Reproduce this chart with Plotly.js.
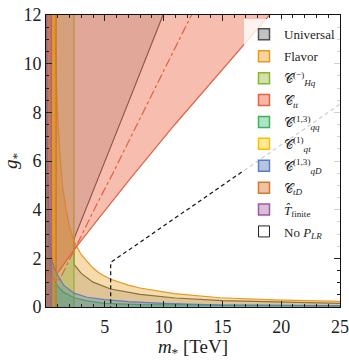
<!DOCTYPE html>
<html><head><meta charset="utf-8">
<script src="https://cdn.plot.ly/plotly-3.0.1.min.js"></script>
<style>html,body{margin:0;padding:0;background:#fff}</style>
</head><body><div id="chart" style="width:349px;height:360px"></div>
<script>
// ---- data (m* in TeV, g*) ----
const uniM = [10.8, 9.95, 7, 4.4, 2.38, 2.38, 3, 4, 5.5, 8, 11, 15, 20, 25, 26, 26, -1, -1];
const uniG = [13, 12, 8.4, 5.23, 2.8, 1.75, 1.38, 1.02, 0.74, 0.52, 0.37, 0.26, 0.19, 0.15, 0.14, -1, -1, 13];
const flavM = [0.67, 0.72, 0.8, 0.9, 1.0, 1.15, 1.4, 1.7, 2.0, 2.38, 3, 4, 4.55, 5.5, 7, 8, 10.9, 14.8, 19.4, 25, 26, 26, -1, -1];
const flavG = [13, 12, 10.5, 9, 7.8, 6.5, 5.0, 4.0, 3.3, 2.7, 2.15, 1.6, 1.39, 1.14, 0.9, 0.78, 0.55, 0.38, 0.29, 0.23, 0.22, -1, -1, 13];
const chqM = [2.38, 2.38, -1, -1];
const chqG = [-1, 13, 13, -1];
const cttM = [0.98, 2.38, 4.5, 7.1, 10.94, 19.0, 20.8, -1, -1];
const cttG = [1.39, 2.35, 3.65, 5.23, 7.49, 12, 13, 13, 1.2];
const cqqM = [0.05, 0.08, 0.15, 0.3, 0.5, 0.7, 1.0, 1.5, 2.38, 3.5, 5, 8, 15, 25, 26, 26, -1, -1];
const cqqG = [9, 6, 3.2, 2.0, 1.4, 1.1, 0.85, 0.6, 0.38, 0.25, 0.15, 0.1, 0.07, 0.05, 0.05, -1, -1, 9];
const cqtM = [0.68, 0.68, -1, -1];
const cqtG = [-1, 13, 13, -1];
const cqdM = [0.06, 0.1, 0.2, 0.3, 0.5, 0.7, 1.0, 1.5, 2.38, 3.5, 5, 7, 10, 15, 25, 26, 26, -1, -1];
const cqdG = [12, 7, 4.5, 2.9, 1.95, 1.6, 1.3, 0.9, 0.57, 0.4, 0.3, 0.22, 0.15, 0.08, 0.05, 0.05, -1, -1, 12];
const ctdM = [0.87, 0.87, -1, -1];
const ctdG = [-1, 13, 13, -1];
const tfM = [0.44, 0.44, -1, -1];
const tfG = [-1, 13, 13, -1];
const ddM = [0, 0.6, 1.15, 1.5, 2.57, 4.3, 5.69, 8, 10.78, 12.4, 13.4];
const ddG = [1.22, 1.15, 1.12, 1.45, 2.5, 4.2, 5.5, 7.75, 10.44, 12, 13];
const plrM = [5.5, 5.5, 25, 26];
const plrG = [-1, 1.83, 8.33, 8.67];
const xTicks = [5, 10, 15, 20, 25];

const regions = [
  {name:'Universal', m:uniM, g:uniG, fill:'rgba(100,100,100,0.24)', line:'#505050', sw:'rgba(120,120,120,0.45)'},
  {name:'Flavor', m:flavM, g:flavG, fill:'rgba(232,160,40,0.38)', line:'#e8981c', sw:'rgba(232,160,40,0.45)'},
  {name:'𝒞<sup>(−)</sup><sub><i>Hq</i></sub>', m:chqM, g:chqG, fill:'rgba(150,180,50,0.30)', line:'#8cb432', sw:'rgba(140,180,40,0.4)'},
  {name:'𝒞<sub><i>tt</i></sub>', m:cttM, g:cttG, fill:'rgba(235,95,60,0.41)', line:'#e8603c', sw:'rgba(235,95,60,0.45)'},
  {name:'𝒞<sup>(1,3)</sup><sub><i>qq</i></sub>', m:cqqM, g:cqqG, fill:'rgba(60,179,113,0.33)', line:'#3cb45a', sw:'rgba(60,179,113,0.4)'},
  {name:'𝒞<sup>(1)</sup><sub><i>qt</i></sub>', m:cqtM, g:cqtG, fill:'rgba(255,200,0,0.28)', line:'#f5c000', sw:'rgba(255,200,0,0.4)'},
  {name:'𝒞<sup>(1,3)</sup><sub><i>qD</i></sub>', m:cqdM, g:cqdG, fill:'rgba(70,110,180,0.26)', line:'#5a80c0', sw:'rgba(70,110,180,0.4)'},
  {name:'𝒞<sub><i>tD</i></sub>', m:ctdM, g:ctdG, fill:'rgba(210,105,30,0.33)', line:'#d2782a', sw:'rgba(210,105,30,0.4)'},
  {name:'<i>T̂</i><sub>finite</sub>', m:tfM, g:tfG, fill:'rgba(150,70,150,0.30)', line:'#a05aa0', sw:'rgba(150,70,150,0.35)'}
];

const traces = [];
regions.forEach(r => {
  traces.push({type:'scatter', mode:'lines', x:r.m, y:r.g, fill:'toself', fillcolor:r.fill,
    line:{color:r.line, width:1.2}, showlegend:false, hoverinfo:'skip'});
});
traces.push({type:'scatter', mode:'lines', x:ddM, y:ddG, line:{color:'#e8603c', width:1.2, dash:'dashdot'}, showlegend:false, hoverinfo:'skip'});
traces.push({type:'scatter', mode:'lines', x:plrM, y:plrG, line:{color:'#111', width:1.2, dash:'4px,3px'}, showlegend:false, hoverinfo:'skip'});
// legend entries
regions.forEach((r,i) => {
  traces.push({type:'scatter', mode:'markers', x:[null], y:[null], name:r.name, legendgroup:'g'+i,
    marker:{symbol:'square', size:11, color:r.sw, line:{color:r.line, width:1.5}}});
});
traces.push({type:'scatter', mode:'markers', x:[null], y:[null], name:'No <i>P</i><sub><i>LR</i></sub>', legendgroup:'g9',
  marker:{symbol:'square-open', size:11, color:'#222', line:{width:1}}});

const serif = "'Liberation Serif', 'DejaVu Serif', serif";
const layout = {
  width:349, height:360,
  margin:{l:46, r:9, t:15, b:53},
  paper_bgcolor:'#fff', plot_bgcolor:'#fff',
  font:{family:serif, size:18, color:'#222'},
  showlegend:true,
  xaxis:{range:[0,25], tickvals:xTicks, ticks:'inside', ticklen:6, tickcolor:'#222',
    minor:{dtick:1, ticks:'inside', ticklen:3, tickcolor:'#222'},
    showline:true, linecolor:'#111', linewidth:1, mirror:'allticks', showgrid:false, zeroline:false,
    ticklabelstandoff:3, tickfont:{family:serif, size:18},
    title:{text:'<i>m</i><sub>*</sub> [TeV]', font:{family:serif, size:19}, standoff:5}},
  yaxis:{range:[0,12], dtick:2, ticks:'inside', ticklen:6, tickcolor:'#222',
    minor:{dtick:0.5, ticks:'inside', ticklen:3, tickcolor:'#222'},
    showline:true, linecolor:'#111', linewidth:1, mirror:'allticks', showgrid:false, zeroline:false,
    tickfont:{family:serif, size:18},
    title:{text:'<i>g</i><sub>*</sub>', font:{family:serif, size:19}, standoff:0}},
  legend:{x:1, xanchor:'right', y:0.985, yanchor:'top', bgcolor:'rgba(255,255,255,0.8)',
    font:{family:serif, size:13, color:'#222'}, tracegroupgap:2, itemclick:false}
};
Plotly.newPlot('chart', traces, layout, {displayModeBar:false, staticPlot:true});
</script></body></html>
